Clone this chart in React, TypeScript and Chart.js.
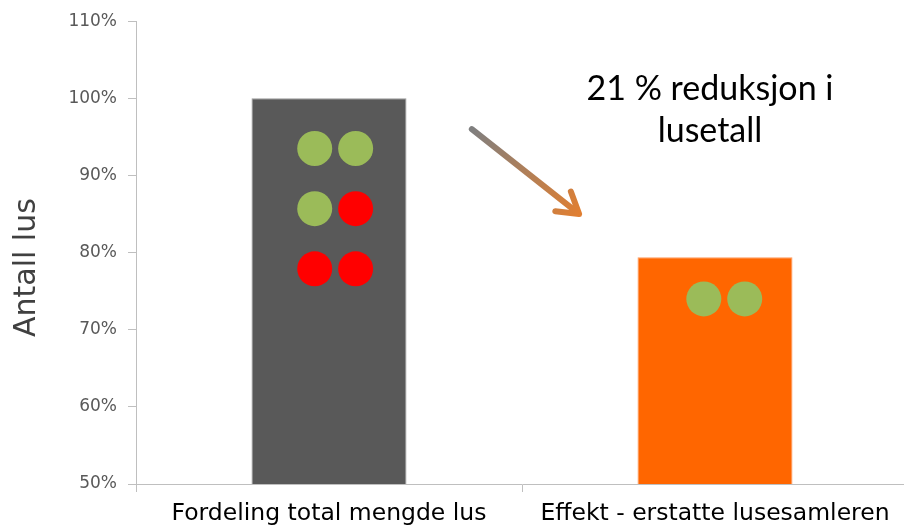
import React, { useEffect, useRef } from "react";
import { Chart, registerables } from "chart.js";

Chart.register(...registerables);

// Bar categories and their share of lice (percent of baseline)
const categories = ["Fordeling total mengde lus", "Effekt - erstatte lusesamleren"];
const liceShare = [100, 79.4];
const barColors = ["#595959", "#FF6600"];
const barBorders = ["#9a9a9a", "#ff9a5c"];

// Lice markers drawn on the bars: category index + horizontal offset, level in percent
const dotX = [-0.037, 0.069, -0.037, 0.069, -0.037, 0.069, 0.971, 1.077];
const dotY = [93.5, 93.5, 85.7, 85.7, 77.9, 77.9, 74, 74];
const dotColors = ["#9BBB59", "#9BBB59", "#9BBB59", "#FF0000", "#FF0000", "#FF0000", "#9BBB59", "#9BBB59"];

// Y axis range and ticks
const yMin = 50;
const yMax = 110;
const yStep = 10;
const yTitle = "Antall lus";

// Callout text and arrow, placed in axis units
const reduction = Math.round(liceShare[0] - liceShare[1]);
const calloutLines = [`${reduction} % reduksjon i`, "lusetall"];
const calloutPos = { x: 0.987, y: 101.2 };
const arrowFrom = { x: 0.37, y: 96.0 };
const arrowTo = { x: 0.648, y: 85.0 };

const W = 912;
const H = 529;

const calloutPlugin = {
  id: "callout",
  afterDatasetsDraw(chart: any) {
    const { ctx, scales, chartArea } = chart;
    const xs = scales.xd;
    const ys = scales.y;
    const x0 = xs.getPixelForValue(arrowFrom.x);
    const y0 = ys.getPixelForValue(arrowFrom.y);
    const x1 = xs.getPixelForValue(arrowTo.x);
    const y1 = ys.getPixelForValue(arrowTo.y);
    const grad = ctx.createLinearGradient(x0, y0, x1, y1);
    grad.addColorStop(0, "#7f7f7f");
    grad.addColorStop(1, "#e07f32");
    const ang = Math.atan2(y1 - y0, x1 - x0);
    const head = 24;
    const spread = 0.55;
    ctx.save();
    ctx.strokeStyle = grad;
    ctx.lineWidth = 6;
    ctx.lineCap = "round";
    ctx.lineJoin = "round";
    ctx.beginPath();
    ctx.moveTo(x0, y0);
    ctx.lineTo(x1 - Math.cos(ang) * 3, y1 - Math.sin(ang) * 3);
    ctx.stroke();
    ctx.beginPath();
    ctx.moveTo(x1 - Math.cos(ang - spread) * head, y1 - Math.sin(ang - spread) * head);
    ctx.lineTo(x1, y1);
    ctx.lineTo(x1 - Math.cos(ang + spread) * head, y1 - Math.sin(ang + spread) * head);
    ctx.stroke();

    const cx = xs.getPixelForValue(calloutPos.x);
    const cy = ys.getPixelForValue(calloutPos.y);
    ctx.fillStyle = "#000000";
    ctx.font = "34px Lato";
    ctx.textAlign = "center";
    ctx.textBaseline = "middle";
    calloutLines.forEach((line, i) => ctx.fillText(line, cx, cy + i * 42));

    // vertical axis title, a little below the axis midpoint
    ctx.translate(27, (chartArea.top + chartArea.bottom) / 2 + 15);
    ctx.rotate(-Math.PI / 2);
    ctx.fillStyle = "#404040";
    ctx.font = "30px 'DejaVu Sans'";
    ctx.fillText(yTitle, 0, 0);
    ctx.restore();
  },
};

export default function App() {
  const canvasRef = useRef<HTMLCanvasElement | null>(null);

  useEffect(() => {
    if (!canvasRef.current) return;
    const chart = new Chart(canvasRef.current, {
      type: "bar",
      data: {
        labels: categories,
        datasets: [
          {
            type: "scatter",
            data: dotX.map((x, i) => ({ x, y: dotY[i] })),
            xAxisID: "xd",
            yAxisID: "y",
            pointRadius: 17.5,
            pointHoverRadius: 17.5,
            pointBackgroundColor: dotColors,
            pointBorderWidth: 0,
            order: 0,
          } as any,
          {
            type: "bar",
            data: liceShare,
            backgroundColor: barColors,
            borderColor: barBorders,
            borderWidth: 1,
            grouped: false,
            barPercentage: 0.4016,
            categoryPercentage: 1,
            xAxisID: "x",
            yAxisID: "y",
            order: 1,
          },
        ],
      },
      options: {
        animation: false,
        responsive: false,
        layout: { autoPadding: false, padding: { top: 20, right: 4, bottom: 0, left: 0 } },
        plugins: {
          legend: { display: false },
          tooltip: { enabled: false },
        },
        scales: {
          x: {
            type: "category",
            afterFit: (s: any) => {
              s.height = 45;
              s.paddingLeft = 0;
              s.paddingRight = 0;
            },
            grid: {
              display: true,
              offset: true,
              drawOnChartArea: false,
              drawTicks: true,
              tickLength: 8,
              color: "#bfbfbf",
            },
            border: { color: "#bfbfbf", width: 1 },
            ticks: {
              color: "#000000",
              font: { family: "DejaVu Sans", size: 23.5 },
              padding: 8,
              maxRotation: 0,
              autoSkip: false,
            },
          },
          xd: {
            type: "linear",
            min: -0.5,
            max: 1.5,
            offset: false,
            display: false,
          },
          y: {
            type: "linear",
            min: yMin,
            max: yMax,
            afterFit: (s: any) => {
              s.width = 136;
            },
            grid: {
              display: true,
              drawOnChartArea: false,
              drawTicks: true,
              tickLength: 8,
              color: "#bfbfbf",
            },
            border: { color: "#bfbfbf", width: 1 },
            ticks: {
              stepSize: yStep,
              color: "#595959",
              padding: 11,
              font: { family: "DejaVu Sans", size: 17 },
              callback: (v: any) => `${v}%`,
            },
          },
        },
      },
      plugins: [calloutPlugin],
    });
    return () => chart.destroy();
  }, []);

  return (
    <div
      style={{
        position: "fixed",
        left: 0,
        top: 0,
        width: 904,
        height: 529,
        overflow: "hidden",
        background: "#ffffff",
      }}
    >
      <canvas ref={canvasRef} width={W} height={H} style={{ display: "block" }} />
    </div>
  );
}
